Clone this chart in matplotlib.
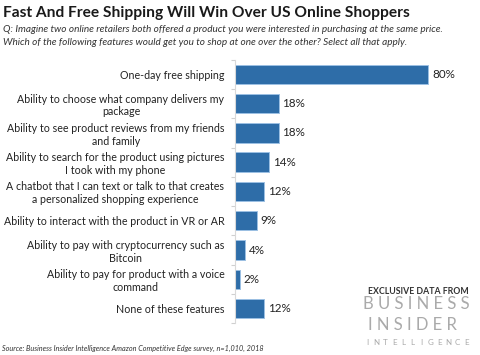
import numpy as np
import matplotlib.pyplot as plt

# survey answers, top to bottom
features = [
    "One-day free shipping",
    "Ability to choose what company delivers my\npackage",
    "Ability to see product reviews from my friends\nand family",
    "Ability to search for the product using pictures\nI took with my phone",
    "A chatbot that I can text or talk to that creates\na personalized shopping experience",
    "Ability to interact with the product in VR or AR",
    "Ability to pay with cryptocurrency such as\nBitcoin",
    "Ability to pay for product with a voice\ncommand",
    "None of these features",
]
shares = [80, 18, 18, 14, 12, 9, 4, 2, 12]

BAR = "#2E6DA8"
FONT = "Lato"

plt.rcParams["font.family"] = [FONT, "DejaVu Sans"]

fig = plt.figure(figsize=(4.8, 3.55), dpi=100)
ax = fig.add_axes([0.4906, 0.0893, 0.45, 0.7428])

pos = np.arange(len(features))
ax.barh(pos, shares, height=0.66, color=BAR, edgecolor="#9cc0e3", linewidth=0.7)
ax.set_ylim(len(features) - 0.5, -0.5)
ax.set_xlim(0, 80 * 0.45 * 480 / 193)

ax.set_yticks(pos)
ax.set_yticklabels(features, fontsize=7.7, color="#222222")
for t in ax.get_yticklabels():
    t.set_multialignment("center")
    t.set_linespacing(1.2)
ax.tick_params(axis="y", which="major", length=0, pad=8)
ax.set_yticks(np.arange(-0.5, len(features)), minor=True)
ax.tick_params(axis="y", which="minor", length=3, color="#d0d0d0", width=0.8)
ax.set_xticks([])

for s in ["top", "right", "bottom"]:
    ax.spines[s].set_visible(False)
ax.spines["left"].set_color("#d9d9d9")
ax.spines["left"].set_linewidth(0.8)

for y, v in zip(pos, shares):
    ax.text(v + 1.5, y, f"{v}%", va="center", ha="left", fontsize=8.4, color="#222222")

fig.text(0.006, 0.962, "Fast And Free Shipping Will Win Over US Online Shoppers",
         fontsize=11.2, fontweight="bold", color="#1a1a1a", va="center")
fig.text(0.006, 0.918,
         "Q: Imagine two online retailers both offered a product you were interested in purchasing at the same price.",
         fontsize=7.2, style="italic", color="#333333", va="center")
fig.text(0.006, 0.880,
         "Which of the following features would get you to shop at one over the other? Select all that apply.",
         fontsize=7.2, style="italic", color="#333333", va="center")
fig.text(0.004, 0.017,
         "Source: Business Insider Intelligence Amazon Competitive Edge survey, n=1,010, 2018",
         fontsize=5.2, style="italic", color="#333333", va="center")

# logo block
fig.text(0.977, 0.180, "EXCLUSIVE DATA FROM", fontsize=6.3, fontweight="bold",
         color="#333333", ha="right", va="center")
fig.text(0.978, 0.143, "B U S I N E S S", fontsize=12, color="#aaaaaa",
         ha="right", va="center")
fig.text(0.952, 0.085, "I N S I D E R", fontsize=12, color="#aaaaaa",
         ha="right", va="center")
word = "INTELLIGENCE"
for i, ch in zip(np.linspace(0.766, 0.972, len(word)), word):
    fig.text(i, 0.036, ch, fontsize=5.8, color="#aaaaaa", ha="center", va="center")

fig.savefig("out.png", dpi=100)
